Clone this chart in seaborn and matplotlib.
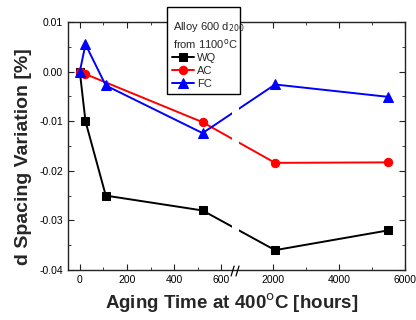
import matplotlib
matplotlib.use("Agg")
import matplotlib.pyplot as plt
import seaborn as sns
import numpy as np
from matplotlib.patches import Rectangle
from matplotlib.ticker import FixedLocator, MultipleLocator

# datos
wq_horas = [0, 24, 110, 520, 2064, 5500]
wq_var = [0.0, -0.010, -0.025, -0.028, -0.036, -0.032]
ac_horas = [0, 24, 520, 2064, 5500]
ac_var = [0.0, -0.0005, -0.0102, -0.0184, -0.0183]
fc_horas = [0, 24, 110, 520, 2064, 5500]
fc_var = [0.0, 0.0055, -0.0028, -0.0124, -0.0026, -0.0051]

series = [("WQ", wq_horas, wq_var, "black", "s", 5.5),
          ("AC", ac_horas, ac_var, "red", "o", 6),
          ("FC", fc_horas, fc_var, "blue", "^", 7)]

# eje x cortado: tramo lineal hasta 670 h, despues comprimido desde 940 h
corte_a, corte_b, k = 670.0, 940.0, 0.1398


def adelante(x):
    x = np.asarray(x, dtype=float)
    return np.where(x <= corte_a, x, corte_a + (x - corte_b) * k)


def atras(u):
    u = np.asarray(u, dtype=float)
    return np.where(u <= corte_a, u, corte_b + (u - corte_a) / k)


sns.set_style("ticks")
plt.rcParams["font.family"] = ["Liberation Sans", "DejaVu Sans"]
plt.rcParams["axes.unicode_minus"] = False

fig = plt.figure(figsize=(4.16, 3.2), dpi=100)
ax = fig.add_axes([68 / 416, 50 / 320, 337 / 416, 248 / 320])

for nombre, x, y, c, m, ms in series:
    sns.lineplot(x=x, y=y, ax=ax, color=c, marker=m, markersize=ms,
                 markeredgecolor=c, linewidth=1.4, label=nombre)
if ax.get_legend() is not None:
    ax.get_legend().remove()

ax.set_xscale("function", functions=(adelante, atras))
ax.set_xlim(-50, 6000)
ax.set_ylim(-0.04, 0.01)
ax.xaxis.set_major_locator(FixedLocator([0, 200, 400, 600, 2000, 4000, 6000]))
ax.xaxis.set_minor_locator(FixedLocator([100, 300, 500, 3000, 5000]))
ax.xaxis.set_major_formatter(matplotlib.ticker.FormatStrFormatter("%d"))
ax.xaxis.set_minor_formatter(matplotlib.ticker.NullFormatter())
ax.yaxis.set_major_locator(MultipleLocator(0.01))
ax.yaxis.set_minor_locator(MultipleLocator(0.005))
ax.yaxis.set_major_formatter(matplotlib.ticker.FormatStrFormatter("%.2f"))
ax.set_xlabel("")
ax.set_ylabel("")

for s in ax.spines.values():
    s.set_color("#222222")
    s.set_linewidth(1.0)
ax.tick_params(which="both", direction="in", labelsize=7.5, colors="#222222",
               labelcolor="black", top=True, right=True)
ax.tick_params(which="major", length=4)
ax.tick_params(which="minor", length=2.5)

# hueco en las lineas en el corte del eje
ax.add_patch(Rectangle((0.488, 0.006), 0.02, 0.988, transform=ax.transAxes,
                       facecolor="white", edgecolor="none", zorder=2.2))
# marcas de corte //
for x0 in (0.484, 0.4985):
    ax.plot([x0, x0 + 0.009], [-0.024, 0.016], transform=ax.transAxes,
            color="black", lw=0.9, clip_on=False, zorder=3)

fig.text(24 / 416, 1 - 157 / 320, "d Spacing Variation [%]", rotation=90,
         ha="center", va="center", fontsize=14, fontweight="bold")
fig.text(232 / 416, 1 - 303 / 320, "Aging Time at 400$^{\\rm o}$C [hours]",
         ha="center", va="center", fontsize=13.5, fontweight="bold")

# caja de leyenda
fig.patches.append(Rectangle((167 / 416, 1 - 94 / 320), 73 / 416, 87 / 320,
                             transform=fig.transFigure, facecolor="white",
                             edgecolor="black", linewidth=1.0, zorder=5))
fig.text(173 / 416, 1 - 27 / 320, "Alloy 600 d$_{200}$", fontsize=8,
         va="center", ha="left", zorder=6)
fig.text(173 / 416, 1 - 44 / 320, "from 1100$^{\\rm o}$C", fontsize=8,
         va="center", ha="left", zorder=6)
handles, labels = ax.get_legend_handles_labels()
leg = fig.legend(handles[:3], labels[:3], loc="upper left",
                 bbox_to_anchor=(172 / 416, 1 - 53 / 320), fontsize=8,
                 frameon=False, handlelength=2.0, handletextpad=0.25,
                 labelspacing=0.26, borderpad=0, borderaxespad=0)
leg.set_zorder(6)

fig.savefig("out.png", dpi=100)
